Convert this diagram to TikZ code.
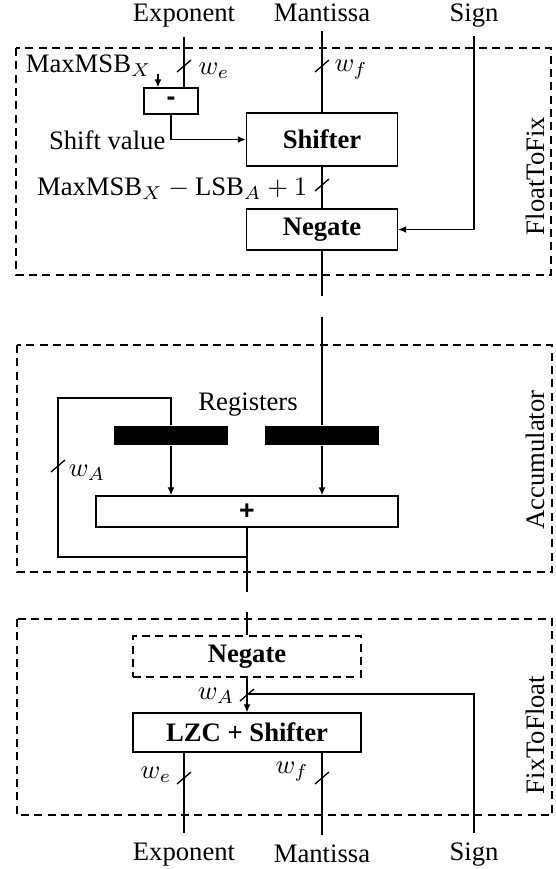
\documentclass[tikz,border=0pt]{standalone}
\usepackage{fontspec}
\setmainfont{Liberation Serif}
\setsansfont{Liberation Sans}
\usetikzlibrary{arrows.meta}
\newcommand\busslash[1]{\draw ([shift={(-7,6)}]#1) -- ([shift={(7,-6)}]#1);}
\begin{document}
\begin{tikzpicture}[x=0.375pt,y=-0.375pt, line width=0.5pt,
  box/.style={draw, rectangle, inner sep=0pt, font=\bfseries},
  grp/.style={draw, dash pattern=on 3pt off 2pt},
  regbar/.style={fill=black, draw=none, rectangle, inner sep=0pt, minimum width=114*0.375pt, minimum height=19*0.375pt},
  arr/.style={-{Latex[length=3pt,width=2.6pt]}},
  lbl/.style={inner sep=0pt},
  io/.style={inner sep=3.4pt, anchor=base},
  side/.style={rotate=90, inner sep=0pt}
]
\useasboundingbox (0,0) rectangle (556,869);

% group frames
\draw[grp] (16,48) rectangle (551,275);
\draw[grp] (17,345) rectangle (552,572);
\draw[grp] (17,619) rectangle (552,815);
\node[side] (ftf) at (535,176) {FloatToFix};
\node[side] (acc) at (535,460) {Accumulator};
\node[side] (fxf) at (535,735) {FixToFloat};

% top inputs
\node[io] (topExp) at (184,21) {Exponent};
\node[io] (topMan) at (322,21) {Mantissa};
\node[io] (topSign) at (474,21) {Sign};

% FloatToFix boxes
\node[box, minimum width=54*0.375pt, minimum height=26*0.375pt, font=\sffamily\bfseries] (sub) at (171,101) {-};
\node[box, minimum width=151*0.375pt, minimum height=53*0.375pt] (shifter) at (322,139.5) {Shifter};
\node[box, minimum width=151*0.375pt, minimum height=41*0.375pt] (neg1) at (322,229.5) {Negate};

\draw (topExp.south |- 0,37) -- (topExp.south |- sub.north);
\coordinate (s1) at (184,66);
\busslash{s1}
\node[lbl] (we1) at (214,71) {$w_e$};

\coordinate (mmsb) at (158,74);
\draw[arr] (mmsb) -- (mmsb |- sub.north);
\node[lbl, anchor=base east] (mmsbl) at (152,72) {MaxMSB$_X$};

\draw[arr] (sub.south) |- (shifter.west);
\node[lbl, anchor=east] (shv) at (166,140) {Shift value};

\draw (topMan.south) -- (shifter.north);
\coordinate (s2) at (322,66);
\busslash{s2}
\node[lbl] (wf1) at (351,70) {$w_f$};

\draw (shifter.south) -- (neg1.north);
\coordinate (s3) at (322,185);
\busslash{s3}
\node[lbl, anchor=base east] (rng) at (308,195) {$\mbox{MaxMSB}_X - \mbox{LSB}_A + 1$};

\draw[arr] (topSign.south) |- (neg1.east);

\coordinate (m1) at (322,296);
\draw (neg1.south) -- (m1);

% Accumulator
\node[box, minimum width=302*0.375pt, minimum height=31*0.375pt, font=\sffamily\bfseries] (adder) at (247,511.5) {+};
\node[regbar] (reg1) at (171,435.5) {};
\node[regbar] (reg2) at (322,435.5) {};
\node[lbl, anchor=base] (regl) at (248,410) {Registers};

\coordinate (m2) at (322,317);
\draw (m2) -- (reg2.north);
\draw[arr] (reg2.south) -- (adder.north -| reg2.south);

\coordinate (fb) at (247,557);
\coordinate (c1) at (58,398);
\coordinate (o1) at (247,592);
\draw (adder.south) -- (o1);
\draw (fb) -| (c1) -| (reg1.north);
\draw[arr] (reg1.south) -- (adder.north -| reg1.south);
\coordinate (s4) at (58,466);
\busslash{s4}
\node[lbl] (wa1) at (87,473) {$w_A$};

% FixToFloat
\node[box, dash pattern=on 3pt off 2pt, minimum width=228*0.375pt, minimum height=41*0.375pt] (neg2) at (247,656.5) {Negate};
\node[box, minimum width=228*0.375pt, minimum height=39*0.375pt] (lzc) at (247,732.5) {LZC + Shifter};

\coordinate (o2) at (247,612);
\draw (o2) -- (neg2.north);
\draw[arr] (neg2.south) -- (lzc.north);
\coordinate (s5) at (247,695);
\busslash{s5}
\node[lbl] (wa2) at (216,696) {$w_A$};

\node[io] (botExp) at (184,860) {Exponent};
\node[io] (botMan) at (322,862) {Mantissa};
\node[io] (botSign) at (474,860) {Sign};

\coordinate (sj) at (247,694);
\draw (botSign.north) |- (sj);
\draw (lzc.south -| botExp) -- (botExp.north);
\draw (lzc.south -| botMan) -- (botMan.north);
\coordinate (s6) at (184,778);
\busslash{s6}
\coordinate (s7) at (322,778);
\busslash{s7}
\node[lbl] (we2) at (156,775) {$w_e$};
\node[lbl] (wf2) at (292,772) {$w_f$};
\end{tikzpicture}
\end{document}
